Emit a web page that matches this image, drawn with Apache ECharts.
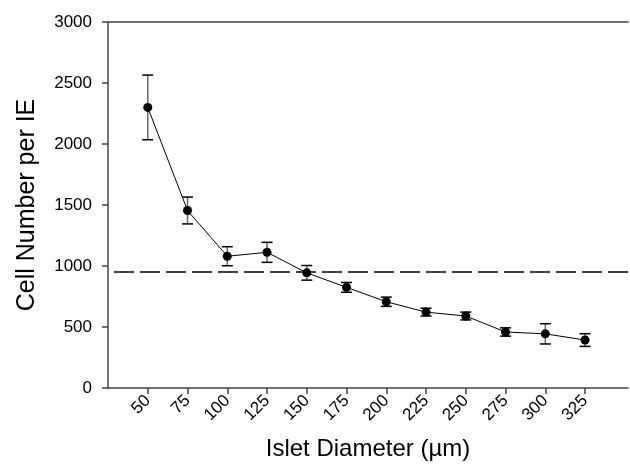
<!DOCTYPE html>
<html>
<head>
<meta charset="utf-8">
<script src="https://cdn.jsdelivr.net/npm/echarts@6/dist/echarts.min.js"></script>
<style>
  html, body { margin: 0; padding: 0; background: #fff; }
  #chart { width: 630px; height: 470px; }
</style>
</head>
<body>
<div id="chart"></div>
<script>
// Islet diameter classes (µm)
const diameters = [50, 75, 100, 125, 150, 175, 200, 225, 250, 275, 300, 325];
// Mean cell number per islet equivalent
const cellNumber = [2300, 1455, 1080, 1112, 944, 825, 707, 622, 590, 459, 444, 393];
// Error bar half-widths
const errors = [265, 110, 78, 82, 60, 40, 38, 32, 32, 34, 83, 52];
// Reference level (horizontal dashed line)
const referenceLevel = 950;
const yTicks = [0, 500, 1000, 1500, 2000, 2500, 3000];

const fontFamily = 'Liberation Sans, Arial, sans-serif';
const axisColor = '#444';

const points = diameters.map((d, i) => [d, cellNumber[i]]);
const bars = diameters.map((d, i) => [d, cellNumber[i] - errors[i], cellNumber[i] + errors[i]]);

const chart = echarts.init(document.getElementById('chart'), null, { renderer: 'canvas' });

chart.setOption({
  animation: false,
  backgroundColor: '#fff',
  grid: { left: 108, right: 2, top: 22, bottom: 82 },
  xAxis: [{
    type: 'value',
    min: 25,
    max: 352,
    interval: 25,
    name: 'Islet Diameter (µm)',
    nameLocation: 'middle',
    nameGap: 49,
    nameTextStyle: { fontFamily, fontSize: 24, color: '#000' },
    axisLine: { show: true, lineStyle: { color: axisColor, width: 1.5 } },
    axisTick: { show: true, inside: false, length: 6, customValues: diameters, lineStyle: { color: axisColor, width: 1.5 } },
    axisLabel: {
      customValues: diameters,
      rotate: 45,
      margin: 10,
      fontFamily, fontSize: 17, color: '#000',
      formatter: v => String(v)
    },
    splitLine: { show: false }
  }, {
    // plain frame line along the top edge
    type: 'value',
    position: 'top',
    min: 25,
    max: 352,
    axisLine: { show: true, lineStyle: { color: axisColor, width: 1.5 } },
    axisTick: { show: false },
    axisLabel: { show: false },
    splitLine: { show: false }
  }],
  yAxis: {
    type: 'value',
    min: 0,
    max: 3000,
    interval: 500,
    name: 'Cell Number per IE',
    nameLocation: 'middle',
    nameGap: 68,
    nameTextStyle: { fontFamily, fontSize: 25, color: '#000' },
    axisLine: { show: true, lineStyle: { color: axisColor, width: 1.5 } },
    axisTick: { show: true, inside: false, length: 6, customValues: yTicks, lineStyle: { color: axisColor, width: 1.5 } },
    axisLabel: { margin: 16, fontFamily, fontSize: 17, color: '#000', formatter: v => String(v) },
    splitLine: { show: false }
  },
  series: [
    {
      type: 'custom',
      name: 'error',
      data: bars,
      z: 2,
      renderItem: function (params, api) {
        const x = api.value(0);
        const top = api.coord([x, api.value(2)]);
        const bot = api.coord([x, api.value(1)]);
        const half = 5.5;
        return {
          type: 'group',
          children: [
            { type: 'line', shape: { x1: top[0], y1: top[1], x2: bot[0], y2: bot[1] },
              style: { stroke: '#666', lineWidth: 1.5 } },
            { type: 'line', shape: { x1: top[0] - half, y1: top[1], x2: top[0] + half, y2: top[1] },
              style: { stroke: '#000', lineWidth: 1.5 } },
            { type: 'line', shape: { x1: bot[0] - half, y1: bot[1], x2: bot[0] + half, y2: bot[1] },
              style: { stroke: '#000', lineWidth: 1.5 } }
          ]
        };
      }
    },
    {
      type: 'line',
      name: 'cells',
      data: points,
      z: 3,
      symbol: 'circle',
      symbolSize: 9,
      itemStyle: { color: '#000' },
      lineStyle: { color: '#000', width: 1 },
      markLine: {
        silent: true,
        symbol: 'none',
        label: { show: false },
        lineStyle: { color: '#000', width: 1.5, type: [20, 6], dashOffset: 20 },
        data: [{ yAxis: referenceLevel }]
      }
    }
  ]
});
</script>
</body>
</html>
